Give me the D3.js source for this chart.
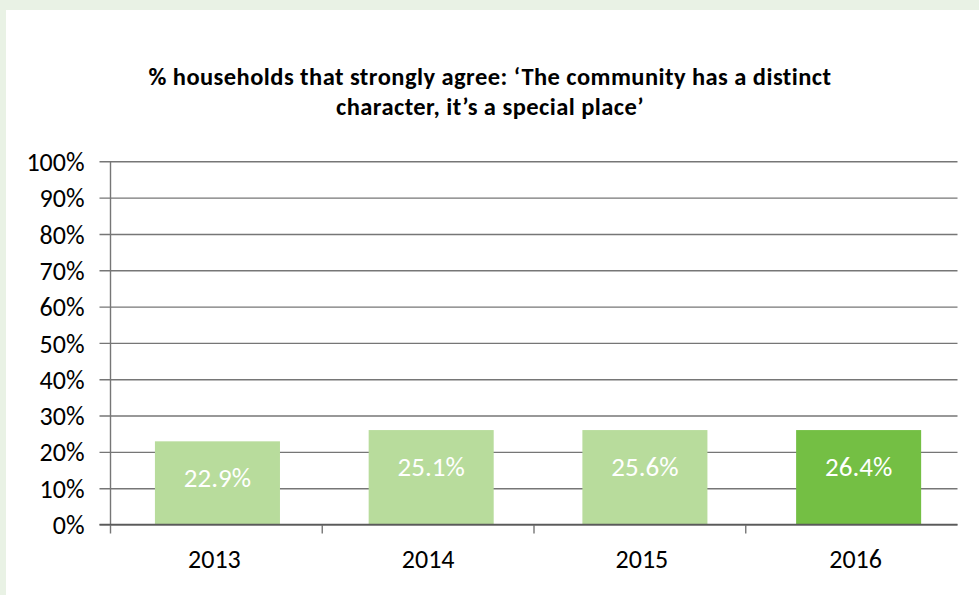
<!DOCTYPE html>
<html>
<head>
<meta charset="utf-8">
<script src="https://cdn.jsdelivr.net/npm/d3@7"></script>
<style>
  html, body { margin: 0; padding: 0; background: #e9f2e5; }
  svg { display: block; }
  text { font-family: Carlito, Calibri, Lato, "Open Sans", sans-serif; }
</style>
</head>
<body>
<svg id="chart" width="979" height="595"></svg>
<script>
const titleLines = ["% households that strongly agree: \u2018The community has a distinct", "character, it\u2019s a special place\u2019"];
const years = ["2013", "2014", "2015", "2016"];
const barValues = [22.9, 26.0, 26.0, 26.0];
const labelValues = [22.9, 25.1, 25.6, 26.4];
const barColors = ["#b8dc9c", "#b8dc9c", "#b8dc9c", "#74bf44"];
const yTicks = [0, 10, 20, 30, 40, 50, 60, 70, 80, 90, 100];

(function () {
const svg = d3.select("#chart");
const W = 979, H = 595;

svg.append("rect").attr("x", 0).attr("y", 0).attr("width", W).attr("height", H).attr("fill", "#e9f2e5");
svg.append("rect").attr("x", 6).attr("y", 10).attr("width", W - 6).attr("height", H - 10).attr("fill", "#ffffff");

const pLeft = 110.5, pRight = 957.5, pTop = 161.3, pBottom = 524.5;

const y = d3.scaleLinear().domain([0, 100]).range([pBottom, pTop]);
const xCat = d3.scaleBand().domain(years).range([pLeft, pRight]);
const x = d3.scaleBand().domain(years).range([pLeft, pRight])
  .paddingInner(0.415).paddingOuter(0.189).align(0.55);

// title (two separate lines)
svg.append("g").selectAll("text").data(titleLines).join("text")
  .attr("x", 490).attr("y", (d, i) => 85 + i * 30)
  .attr("text-anchor", "middle")
  .attr("font-weight", "bold").attr("font-size", 24.5)
  .attr("letter-spacing", 0.45).attr("fill", "#000")
  .text(d => d);

// gridlines + y ticks
const yAxis = d3.axisLeft(y).tickValues(yTicks).tickSize(-(pRight - pLeft)).tickFormat(d => d + "%").tickPadding(0);
const gy = svg.append("g").attr("transform", `translate(${pLeft},0)`).call(yAxis);
gy.select(".domain").remove();
gy.selectAll(".tick line").attr("x1", -11).attr("stroke", "#767676").attr("stroke-width", 1.4);
gy.selectAll(".tick text").attr("x", -26).attr("dy", "0.35em")
  .attr("font-size", 26).attr("fill", "#000").attr("font-family", "Carlito, Calibri, Lato, 'Open Sans', sans-serif");

// y axis line
svg.append("line").attr("x1", pLeft).attr("x2", pLeft).attr("y1", pTop).attr("y2", pBottom + 9)
  .attr("stroke", "#767676").attr("stroke-width", 1.4);

// x category tick marks
svg.append("g").selectAll("line").data(years.slice(1)).join("line")
  .attr("x1", d => xCat(d)).attr("x2", d => xCat(d))
  .attr("y1", pBottom).attr("y2", pBottom + 9)
  .attr("stroke", "#767676").attr("stroke-width", 1.4);

// bars
svg.append("g").selectAll("rect").data(years).join("rect")
  .attr("x", d => x(d)).attr("width", x.bandwidth())
  .attr("y", (d, i) => y(barValues[i]))
  .attr("height", (d, i) => y(0) - y(barValues[i]))
  .attr("fill", (d, i) => barColors[i]);

// baseline redraw on top
svg.append("line").attr("x1", pLeft - 11).attr("x2", pRight).attr("y1", y(0)).attr("y2", y(0))
  .attr("stroke", "#5a5a5a").attr("stroke-width", 1.4);

// bar labels
svg.append("g").selectAll("text").data(years).join("text")
  .attr("x", d => x(d) + x.bandwidth() / 2)
  .attr("y", (d, i) => y(barValues[i]) + 46)
  .attr("text-anchor", "middle").attr("font-size", 27).attr("fill", "#ffffff")
  .text((d, i) => labelValues[i].toFixed(1) + "%");

// x labels
svg.append("g").selectAll("text").data(years).join("text")
  .attr("x", d => x(d) + x.bandwidth() / 2 - 3)
  .attr("y", 568)
  .attr("text-anchor", "middle").attr("font-size", 26).attr("fill", "#000")
  .text(d => d);
})();
</script>
</body>
</html>
